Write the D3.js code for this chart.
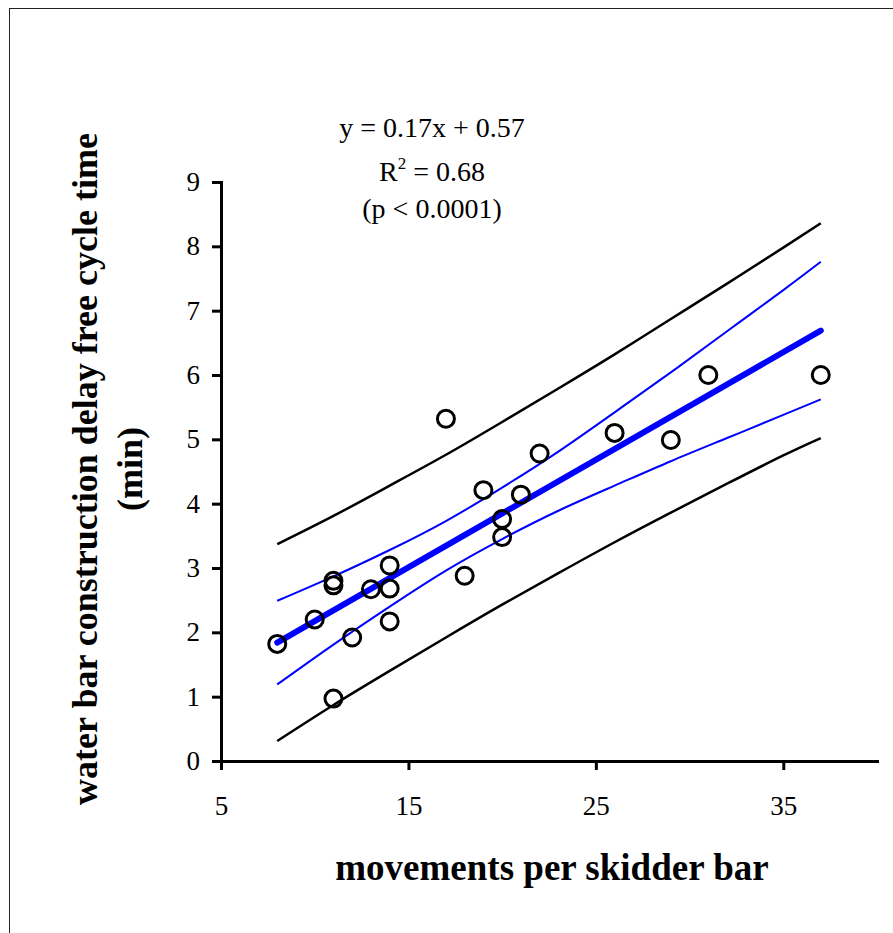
<!DOCTYPE html>
<html>
<head>
    <meta charset="utf-8">
    <title>Water bar cycle time vs skidder movements</title>
    <style>
        body { margin: 0; background: #fff; }
        svg { display: block; }
        text { font-family: 'Liberation Serif', 'Times New Roman', serif; fill: #000; }
        .axis path, .axis line { stroke: #000; stroke-width: 3px; }
        .axis text { font-size: 27px; font-family: 'Liberation Serif', 'Times New Roman', serif; }
    </style>
</head>
<body>
<div id="chart"></div>

<script src="https://d3js.org/d3.v7.min.js"></script>
<script>
// observed points
var movements = [8, 10, 11, 11, 11, 12, 13, 14, 14, 14, 17, 18, 19, 20, 20, 21, 22, 26, 29, 31, 37];
var cycleTime = [1.82, 2.20, 0.97, 2.73, 2.80, 1.92, 2.67, 2.17, 2.68, 3.04, 5.32, 2.88, 4.21, 3.48, 3.76, 4.14, 4.78, 5.10, 4.99, 6.00, 6.00];

// fitted line and bands
var fitX = [8, 37];
var fitY = [1.84, 6.69];
var bandX     = [8, 11, 14, 17, 20, 23, 26, 29, 32, 35, 37];
var confUpper = [2.49, 2.87, 3.28, 3.73, 4.25, 4.81, 5.42, 6.04, 6.68, 7.32, 7.76];
var confLower = [1.19, 1.81, 2.40, 2.96, 3.45, 3.89, 4.28, 4.66, 5.02, 5.38, 5.62];
var predUpper = [3.37, 3.81, 4.28, 4.76, 5.27, 5.79, 6.32, 6.87, 7.42, 7.98, 8.36];
var predLower = [0.31, 0.87, 1.40, 1.92, 2.43, 2.92, 3.40, 3.86, 4.31, 4.75, 5.02];

var xTicks = [5, 15, 25, 35];
var yTicks = [0, 1, 2, 3, 4, 5, 6, 7, 8, 9];

var width = 893, height = 933;

var svg = d3.select("#chart").append("svg")
    .attr("width", width)
    .attr("height", height);

// outer frame (runs off the right and bottom edges)
svg.append("rect")
    .attr("x", 9.5).attr("y", 8.5)
    .attr("width", 1000).attr("height", 1000)
    .attr("fill", "none")
    .attr("stroke", "#222")
    .attr("stroke-width", 1);

var x = d3.scaleLinear().domain([5, 40]).range([221, 877]);
var y = d3.scaleLinear().domain([0, 9]).range([761, 182]);

// axes
var xAxis = svg.append("g")
    .attr("class", "axis")
    .attr("transform", "translate(0," + y(0) + ")")
    .call(d3.axisBottom(x).tickValues(xTicks).tickSize(9).tickSizeOuter(0).tickPadding(26));

var yAxis = svg.append("g")
    .attr("class", "axis")
    .attr("transform", "translate(" + x(5) + ",0)")
    .call(d3.axisLeft(y).tickValues(yTicks).tickSize(9).tickSizeOuter(0).tickPadding(12));

xAxis.selectAll("path").attr("stroke-linecap", "square");
yAxis.selectAll("path").attr("stroke-linecap", "square");

function pairs(xs, ys) {
    return xs.map(function(v, i) { return [v, ys[i]]; });
}

var band = d3.line()
    .x(function(d) { return x(d[0]); })
    .y(function(d) { return y(d[1]); })
    .curve(d3.curveNatural);

// prediction interval (black)
[predUpper, predLower].forEach(function(arr) {
    svg.append("path")
        .attr("d", band(pairs(bandX, arr)))
        .attr("fill", "none")
        .attr("stroke", "#000")
        .attr("stroke-width", 2.5);
});

// confidence interval (thin blue)
[confUpper, confLower].forEach(function(arr) {
    svg.append("path")
        .attr("d", band(pairs(bandX, arr)))
        .attr("fill", "none")
        .attr("stroke", "#0000ff")
        .attr("stroke-width", 2);
});

// regression line
svg.append("path")
    .attr("d", band(pairs(fitX, fitY)))
    .attr("fill", "none")
    .attr("stroke", "#0000ff")
    .attr("stroke-width", 6)
    .attr("stroke-linecap", "round");

// points
svg.selectAll(".pt")
    .data(pairs(movements, cycleTime))
    .enter().append("circle")
    .attr("class", "pt")
    .attr("cx", function(d) { return x(d[0]); })
    .attr("cy", function(d) { return y(d[1]); })
    .attr("r", 8.5)
    .attr("fill", "none")
    .attr("stroke", "#000")
    .attr("stroke-width", 3);

// equation block
var eq = svg.append("g").attr("font-size", "28px").attr("text-anchor", "middle");
eq.append("text").attr("x", 432).attr("y", 137).text("y = 0.17x + 0.57");
var r2 = eq.append("text").attr("x", 432).attr("y", 181);
r2.append("tspan").text("R");
r2.append("tspan").attr("font-size", "17px").attr("dy", -12).text("2");
r2.append("tspan").attr("dy", 12).text(" = 0.68");
eq.append("text").attr("x", 432).attr("y", 218).text("(p < 0.0001)");

// axis titles
svg.append("text")
    .attr("x", 552).attr("y", 880)
    .attr("text-anchor", "middle")
    .attr("font-size", "37px")
    .attr("font-weight", "bold")
    .text("movements per skidder bar");

var yTitle = svg.append("text")
    .attr("transform", "translate(97,469) rotate(-90)")
    .attr("text-anchor", "middle")
    .attr("font-size", "36px")
    .attr("font-weight", "bold");
yTitle.append("tspan").attr("x", 0).attr("y", 0).text("water bar construction delay free cycle time");
yTitle.append("tspan").attr("x", 0).attr("y", 45).text("(min)");
</script>
</body>
</html>
